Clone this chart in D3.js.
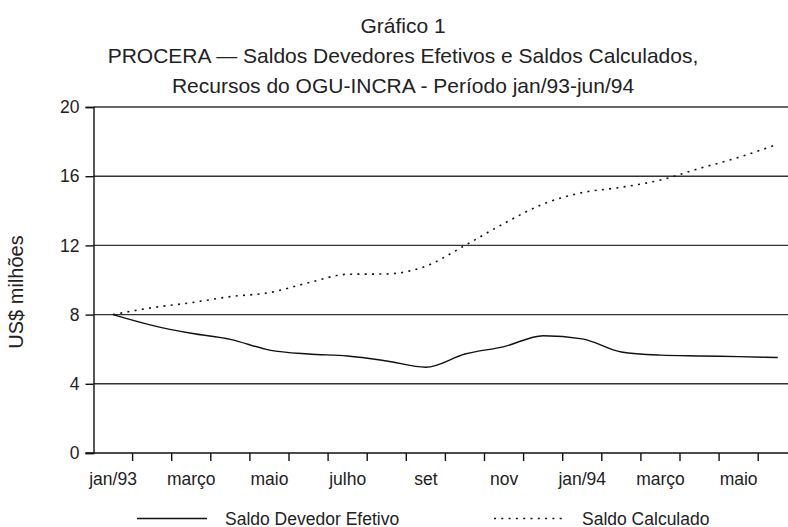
<!DOCTYPE html>
<html>
<head>
<meta charset="utf-8">
<script src="https://cdn.jsdelivr.net/npm/d3@7"></script>
<style>
  body { margin: 0; background: #fff; }
  svg { display: block; font-family: "Liberation Sans", Arial, sans-serif; }
</style>
</head>
<body>
<div id="chart"></div>
<script>
// months jan/93 .. jun/94
var months = ["jan/93","fev","março","abril","maio","junho","julho","agosto","set","out","nov","dez",
              "jan/94","fev/94","março/94","abril/94","maio/94","junho/94"]
var monthLabels = ["jan/93","","março","","maio","","julho","","set","","nov","","jan/94","","março","","maio",""]

var efetivo   = [8.0, 7.38, 6.92, 6.57, 5.95, 5.72, 5.61, 5.32, 4.96, 5.72, 6.15, 6.78, 6.6, 5.84, 5.66, 5.61, 5.57, 5.52]
var calculado = [8.0, 8.4, 8.69, 9.04, 9.27, 9.84, 10.33, 10.35, 10.8, 12.0, 13.27, 14.39, 15.05, 15.36, 15.78, 16.45, 17.09, 17.85]

var yTicks = [0, 4, 8, 12, 16, 20]
var titleLines = ["Gráfico 1",
  "PROCERA — Saldos Devedores Efetivos e Saldos Calculados,",
  "Recursos do OGU-INCRA - Período jan/93-jun/94"]
var seriesNames = ["Saldo Devedor Efetivo", "Saldo Calculado"]

var width = 788, height = 527
var plotLeft = 93.5, plotTop = 107, plotBottom = 453
var band = 39.1

var svg = d3.select("#chart").append("svg")
    .attr("width", width).attr("height", height)

var x = d3.scaleBand()
    .domain(d3.range(months.length))
    .range([plotLeft, plotLeft + band * months.length])
    .padding(0)

var y = d3.scaleLinear()
    .domain([0, 20])
    .range([plotBottom, plotTop])

// title
svg.append("g")
  .selectAll("text")
  .data(titleLines)
  .join("text")
    .attr("x", 403)
    .attr("y", (d, i) => 33 + i * 30)
    .attr("text-anchor", "middle")
    .attr("font-size", 21)
    .attr("fill", "#222")
    .text(d => d)

// gridlines
svg.append("g")
  .selectAll("line")
  .data(yTicks.filter(d => d > 0))
  .join("line")
    .attr("x1", plotLeft)
    .attr("x2", plotLeft + band * months.length)
    .attr("y1", d => y(d))
    .attr("y2", d => y(d))
    .attr("stroke", "#333")
    .attr("stroke-width", 1.4)

// y axis
var yAxis = svg.append("g")
    .attr("transform", "translate(" + plotLeft + ",0)")
    .call(d3.axisLeft(y).tickValues(yTicks).tickSize(8).tickPadding(6))
yAxis.select(".domain").attr("stroke", "#111").attr("stroke-width", 1.4)
yAxis.selectAll(".tick line").attr("stroke", "#111").attr("stroke-width", 1.4)
yAxis.selectAll("text")
    .attr("font-size", 17.5)
    .attr("font-family", "Liberation Sans, Arial, sans-serif")
    .attr("fill", "#222")

// x axis: ticks on month boundaries
var xAxisG = svg.append("g")
    .attr("transform", "translate(0," + plotBottom + ")")
xAxisG.append("line")
    .attr("x1", plotLeft - 8)
    .attr("x2", plotLeft + band * months.length)
    .attr("stroke", "#111")
    .attr("stroke-width", 1.4)
xAxisG.selectAll(".xt")
  .data(d3.range(months.length))
  .join("line")
    .attr("class", "xt")
    .attr("x1", d => x(d) + x.bandwidth())
    .attr("x2", d => x(d) + x.bandwidth())
    .attr("y1", 0)
    .attr("y2", 8)
    .attr("stroke", "#111")
    .attr("stroke-width", 1.4)
xAxisG.selectAll("text")
  .data(d3.range(months.length))
  .join("text")
    .attr("x", d => x(d) + x.bandwidth() / 2)
    .attr("y", 32)
    .attr("text-anchor", "middle")
    .attr("font-size", 17.5)
    .attr("fill", "#222")
    .text(d => monthLabels[d])

// y label
svg.append("text")
    .attr("transform", "translate(23,292) rotate(-90)")
    .attr("text-anchor", "middle")
    .attr("font-size", 20)
    .attr("fill", "#222")
    .text("US$ milhões")

// lines
var line = d3.line()
    .x((d, i) => x(i) + x.bandwidth() / 2)
    .y(d => y(d))
    .curve(d3.curveMonotoneX)

svg.append("path")
    .datum(calculado)
    .attr("d", line)
    .attr("fill", "none")
    .attr("stroke", "#111")
    .attr("stroke-width", 1.6)
    .attr("stroke-dasharray", "2,5.3")

svg.append("path")
    .datum(efetivo)
    .attr("d", line)
    .attr("fill", "none")
    .attr("stroke", "#111")
    .attr("stroke-width", 1.4)

// legend
var legend = svg.append("g")
var legItems = [
  {name: seriesNames[0], x1: 137, x2: 207, tx: 225, dash: null},
  {name: seriesNames[1], x1: 494, x2: 566, tx: 582, dash: "2,5.3"}
]
legend.selectAll("line")
  .data(legItems)
  .join("line")
    .attr("x1", d => d.x1)
    .attr("x2", d => d.x2)
    .attr("y1", 518.5)
    .attr("y2", 518.5)
    .attr("stroke", "#111")
    .attr("stroke-width", 1.4)
    .attr("stroke-dasharray", d => d.dash)
legend.selectAll("text")
  .data(legItems)
  .join("text")
    .attr("x", d => d.tx)
    .attr("y", 524.5)
    .attr("font-size", 17.5)
    .attr("fill", "#222")
    .text(d => d.name)
</script>
</body>
</html>
